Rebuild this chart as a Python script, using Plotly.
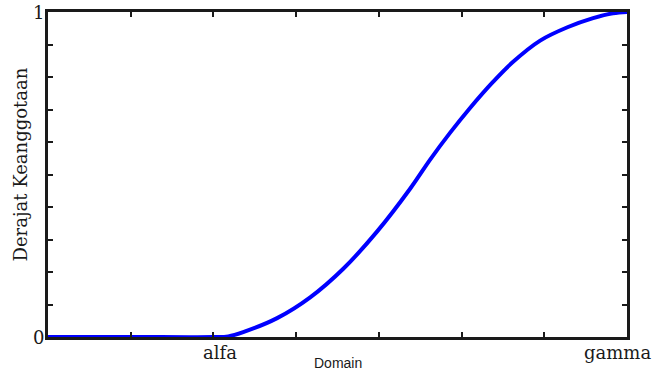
import plotly.graph_objects as go

# Membership curve (S-shape) sampled along the domain
domain_x = [0.0, 1.0, 2.0, 2.18, 2.36, 2.77, 3.17, 3.57, 3.98, 4.38, 4.62,
            4.86, 5.10, 5.38, 5.62, 5.95, 6.28, 6.59, 6.83, 7.0]
membership = [0.0, 0.0, 0.0, 0.002, 0.015, 0.058, 0.122, 0.21, 0.325, 0.457, 0.546,
              0.628, 0.704, 0.785, 0.846, 0.912, 0.953, 0.981, 0.996, 1.0]

x_ticks = [0, 1, 2, 3, 4, 5, 6, 7]
y_ticks = [round(0.1 * i, 1) for i in range(11)]

x_labels = {2: ("alfa", 7), 7: ("gamma", -10)}
y_labels = {0: "0", 1: "1"}

fig = go.Figure()
fig.add_trace(go.Scatter(
    x=domain_x, y=membership, mode="lines",
    line=dict(color="#0000ff", width=4, shape="spline", smoothing=1.0),
    hoverinfo="skip", showlegend=False,
))

axis_common = dict(
    showgrid=False, zeroline=False, showline=True, linecolor="#1a1a1a",
    linewidth=2.5, mirror="allticks", ticks="inside", ticklen=5,
    tickwidth=1.5, tickcolor="#1a1a1a", showticklabels=False,
)

fig.update_xaxes(range=[0, 7], tickvals=x_ticks, **axis_common)
fig.update_yaxes(range=[0, 1], tickvals=y_ticks, **axis_common)

serif = dict(family="DejaVu Serif", size=18, color="#1a1a1a")

annotations = []
for xv, (txt, shift) in x_labels.items():
    annotations.append(dict(x=xv, y=0, xref="x", yref="y", text=txt, showarrow=False,
                            xanchor="center", yanchor="top", yshift=-3, xshift=shift,
                            font=serif))
for yv, txt in y_labels.items():
    annotations.append(dict(x=0, y=yv, xref="x", yref="y", text=txt, showarrow=False,
                            xanchor="right", yanchor="middle", xshift=-2,
                            font=serif))
annotations.append(dict(x=0.5, y=0, xref="paper", yref="paper", text="Domain",
                        showarrow=False, xanchor="center", yanchor="top", yshift=-16,
                        font=dict(family="Liberation Sans", size=14, color="#1a1a1a")))
annotations.append(dict(x=0, y=0.5, xref="paper", yref="paper",
                        text="Derajat Keanggotaan", textangle=-90, showarrow=False,
                        xanchor="center", yanchor="middle", xshift=-28, yshift=10,
                        font=serif))

fig.update_layout(
    width=656, height=376,
    margin=dict(l=48, r=29, t=9, b=39),
    paper_bgcolor="white", plot_bgcolor="white",
    annotations=annotations,
)

fig.write_html("out.html")
